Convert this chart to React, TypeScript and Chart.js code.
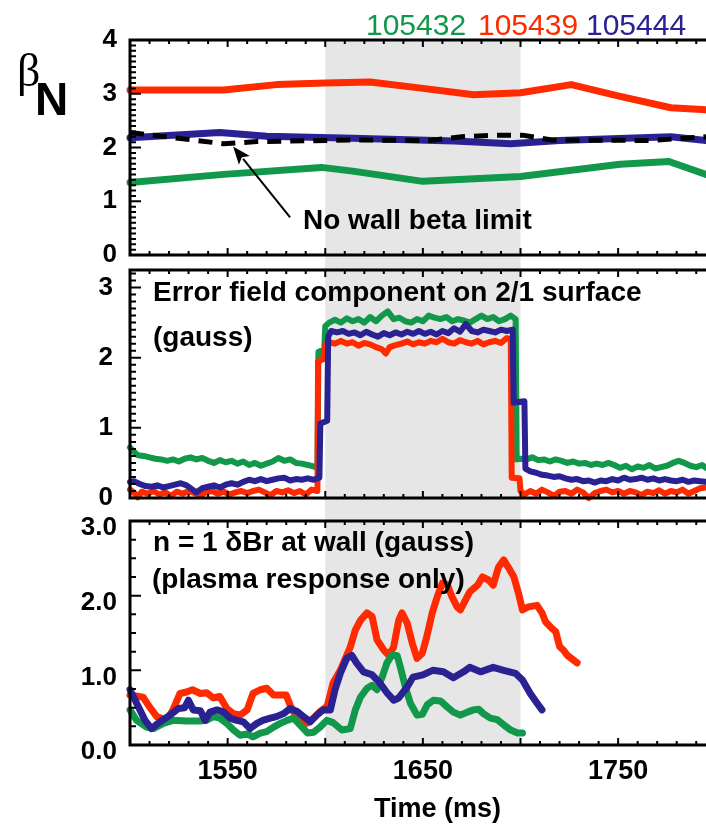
import React, { useEffect, useRef } from "react";
import { Chart, registerables } from "chart.js";

Chart.register(...registerables);

// ---------- axes ----------
const X_MIN = 1500;
const X_MAX = 1795;
const X_TICKS = [1550, 1650, 1750];
const SHADE_START = 1600;
const SHADE_END = 1700;

const BETA_TICKS = [0, 1, 2, 3, 4];
const EF_TICKS = [0, 1, 2, 3];
const BR_TICKS = [0, 1, 2, 3];

const SHOTS = ["105432", "105439", "105444"];

const GREEN = "#12984a";
const RED = "#ff2a00";
const BLUE = "#2a2293";
const BAND = "#e6e6e6";

// ---------- panel 1: beta_N ----------
const BETA_RED_T = [1500, 1548, 1575, 1600, 1623, 1650, 1676, 1700, 1726, 1751, 1777, 1795];
const BETA_RED = [3.07, 3.07, 3.17, 3.2, 3.22, 3.1, 2.98, 3.02, 3.17, 2.95, 2.74, 2.7];
const BETA_GREEN_T = [1500, 1548, 1598, 1614, 1650, 1700, 1751, 1776, 1795];
const BETA_GREEN = [1.35, 1.5, 1.63, 1.56, 1.37, 1.46, 1.69, 1.74, 1.5];
const BETA_BLUE_T = [1500, 1546, 1570, 1614, 1666, 1695, 1720, 1777, 1795];
const BETA_BLUE = [2.18, 2.28, 2.21, 2.17, 2.12, 2.07, 2.13, 2.2, 2.13];
const NOWALL_T = [1500, 1548, 1565, 1614, 1653, 1670, 1687, 1701, 1716, 1767, 1795];
const NOWALL = [2.28, 2.07, 2.11, 2.14, 2.13, 2.2, 2.23, 2.23, 2.14, 2.13, 2.2];

// ---------- panel 2: error field ----------
const EF_GREEN_T = [1500, 1502, 1504, 1507, 1510, 1513, 1516, 1519, 1522, 1525, 1528, 1531, 1534, 1537, 1540, 1543, 1546, 1549, 1552, 1555, 1558, 1561, 1564, 1567, 1570, 1573, 1576, 1579, 1582, 1585, 1588, 1591, 1594, 1596,
  1596.5, 1599.5, 1600,
  1602, 1605, 1608, 1611, 1614, 1617, 1620, 1623, 1626, 1629, 1632, 1635, 1638, 1641, 1644, 1647, 1650, 1653, 1656, 1659, 1662, 1665, 1668, 1671, 1674, 1677, 1680, 1683, 1686, 1689, 1692, 1695, 1697.5,
  1698,
  1700, 1703, 1706, 1709, 1712, 1715, 1718, 1721, 1724, 1727, 1730, 1733, 1736, 1739, 1742, 1745, 1748, 1751, 1754, 1757, 1760, 1763, 1766, 1769, 1772, 1775, 1778, 1781, 1784, 1787, 1790, 1793, 1795];
const EF_GREEN = [0.72, 0.66, 0.61, 0.6, 0.58, 0.56, 0.55, 0.53, 0.55, 0.52, 0.56, 0.58, 0.55, 0.57, 0.53, 0.5, 0.54, 0.51, 0.53, 0.49, 0.52, 0.47, 0.5, 0.46, 0.49, 0.52, 0.57, 0.53, 0.55, 0.5, 0.49, 0.47, 0.45, 0.43,
  2.08, 2.12, 2.45,
  2.5, 2.54, 2.5, 2.56, 2.52, 2.55, 2.5, 2.58, 2.52, 2.6, 2.66, 2.55, 2.57, 2.52, 2.5, 2.55, 2.52, 2.6, 2.57, 2.55, 2.58, 2.52, 2.55, 2.53, 2.5, 2.55, 2.6, 2.55, 2.58, 2.52, 2.55, 2.6, 2.55,
  0.55,
  0.56, 0.55, 0.58, 0.54, 0.55, 0.52, 0.55, 0.53, 0.5, 0.52, 0.49, 0.5, 0.47, 0.49, 0.47, 0.5, 0.47, 0.43, 0.46, 0.41, 0.45, 0.43, 0.47, 0.42, 0.44, 0.46, 0.5, 0.53, 0.5, 0.46, 0.44, 0.47, 0.43];

const EF_RED_T = [1500, 1502, 1504, 1506, 1509, 1512, 1515, 1518, 1521, 1524, 1527, 1530, 1533, 1536, 1539, 1542, 1545, 1548, 1551, 1554, 1557, 1560, 1563, 1566, 1569, 1572, 1575, 1578, 1581, 1584, 1587, 1590, 1593, 1596,
  1596.3, 1599, 1600,
  1602, 1605, 1608, 1611, 1614, 1617, 1620, 1623, 1626, 1629, 1631, 1633, 1636, 1639, 1642, 1645, 1648, 1651, 1654, 1657, 1660, 1663, 1666, 1669, 1672, 1675, 1678, 1681, 1684, 1687, 1690, 1693, 1695,
  1695.5, 1699.5, 1700,
  1702, 1705, 1708, 1711, 1714, 1717, 1720, 1723, 1726, 1729, 1732, 1735, 1738, 1741, 1744, 1747, 1750, 1753, 1756, 1759, 1762, 1765, 1768, 1771, 1774, 1777, 1780, 1783, 1786, 1789, 1792, 1795];
const EF_RED = [0.12, 0.08, 0.01, 0.09, 0.06, 0.1, 0.05, 0.08, 0.03, 0.09, 0.06, 0.1, 0.07, 0.04, 0.08, 0.1, 0.06, 0.09, 0.05, 0.08, 0.1, 0.07, 0.1, 0.12, 0.08, 0.04, 0.1, 0.08, 0.11, 0.07, 0.1, 0.05, 0.12, 0.1,
  1.95, 1.98, 2.18,
  2.22, 2.2, 2.24, 2.2, 2.22, 2.17, 2.21, 2.19, 2.15, 2.12, 2.06, 2.15, 2.18, 2.2, 2.23, 2.19, 2.22, 2.2, 2.24, 2.22, 2.27, 2.22, 2.2, 2.25, 2.22, 2.2, 2.24, 2.19, 2.22, 2.24, 2.21, 2.28, 2.26,
  0.29, 0.28, 0.1,
  0.05, 0.1, 0.06, 0.12, 0.08, 0.03, 0.09, 0.1, 0.06, 0.12, 0.08, 0.0, 0.07, 0.1, 0.12, 0.08, 0.1, 0.06, 0.1, 0.08, 0.04, 0.09, 0.07, 0.11, 0.06, 0.1, 0.08, 0.12, 0.06, 0.1, 0.14, 0.15];

const EF_BLUE_T = [1500, 1502, 1505, 1508, 1511, 1514, 1517, 1520, 1523, 1526, 1529, 1532, 1534, 1537, 1540, 1543, 1546, 1549, 1552, 1555, 1558, 1561, 1564, 1567, 1570, 1573, 1576, 1579, 1582, 1585, 1588, 1591, 1594, 1597,
  1597.5, 1601, 1601.5,
  1603, 1606, 1609, 1612, 1615, 1618, 1621, 1624, 1627, 1630, 1633, 1636, 1639, 1642, 1645, 1648, 1651, 1654, 1657, 1660, 1663, 1666, 1669, 1672, 1675, 1678, 1681, 1684, 1687, 1690, 1693, 1696,
  1696.5, 1702, 1702.5,
  1705, 1708, 1711, 1714, 1717, 1720, 1723, 1726, 1729, 1732, 1735, 1738, 1741, 1744, 1747, 1750, 1753, 1756, 1759, 1762, 1765, 1768, 1771, 1774, 1777, 1780, 1783, 1786, 1789, 1792, 1795];
const EF_BLUE = [0.23, 0.24, 0.2, 0.17, 0.16, 0.18, 0.15, 0.17, 0.19, 0.21, 0.18, 0.12, 0.08, 0.14, 0.16, 0.18, 0.15, 0.19, 0.21, 0.19, 0.23, 0.26, 0.24, 0.27, 0.24, 0.26, 0.28, 0.29, 0.25, 0.27, 0.26, 0.28, 0.26, 0.29,
  1.06, 1.1, 2.3,
  2.38, 2.36, 2.38, 2.34, 2.36, 2.32, 2.37, 2.33, 2.3, 2.35, 2.32, 2.36, 2.33, 2.37, 2.34, 2.38, 2.34, 2.37, 2.33, 2.38, 2.35, 2.42, 2.37, 2.48, 2.38, 2.36, 2.4, 2.38, 2.36, 2.4, 2.38, 2.4,
  1.36, 1.38, 0.42,
  0.38, 0.36, 0.33, 0.32, 0.3, 0.31, 0.28, 0.26, 0.27, 0.24, 0.25, 0.22, 0.25, 0.24, 0.27, 0.25, 0.29, 0.26, 0.27, 0.29, 0.26, 0.28, 0.25, 0.27, 0.25, 0.24, 0.26, 0.23, 0.25, 0.24, 0.23];

// ---------- panel 3: n=1 dBr at wall ----------
const BR_RED_T = [1500, 1506.7, 1510, 1513.7, 1518.8, 1522, 1525.6, 1529, 1532, 1536, 1539.3, 1542.7, 1546, 1549.6, 1553, 1556.4, 1560, 1563, 1566.7, 1570, 1573.5, 1577, 1580, 1583, 1587, 1590.6, 1594, 1597, 1601, 1604, 1607.7, 1612.8, 1615.4, 1618, 1621.4, 1624, 1626.5, 1630, 1632.5, 1635, 1637.6, 1639.3, 1642, 1644.6, 1647, 1649.7, 1652, 1654.8, 1657.3, 1660, 1662.4, 1665, 1667.5, 1669.2, 1671.8, 1674, 1678, 1680.5, 1683.6, 1686, 1688.7, 1691.4, 1694, 1696.6, 1699, 1701, 1704, 1708.5, 1711, 1712.8, 1715.4, 1718, 1720, 1722, 1724, 1727, 1729];
const BR_RED = [0.67, 0.64, 0.51, 0.38, 0.33, 0.47, 0.69, 0.71, 0.74, 0.69, 0.7, 0.63, 0.65, 0.49, 0.42, 0.4, 0.47, 0.69, 0.74, 0.76, 0.67, 0.67, 0.67, 0.47, 0.33, 0.29, 0.36, 0.44, 0.52, 0.83, 1.0, 1.31, 1.54, 1.67, 1.77, 1.72, 1.41, 1.27, 1.2, 1.31, 1.67, 1.77, 1.63, 1.36, 1.16, 1.23, 1.45, 1.77, 1.98, 2.17, 2.15, 1.98, 1.85, 1.81, 1.94, 2.05, 2.14, 2.25, 2.21, 2.14, 2.38, 2.48, 2.37, 2.25, 2.03, 1.81, 1.85, 1.87, 1.77, 1.65, 1.58, 1.52, 1.32, 1.27, 1.2, 1.14, 1.1];

const BR_BLUE_T = [1500, 1503.4, 1507.7, 1511, 1515.4, 1520.5, 1524.8, 1528, 1529.9, 1532.4, 1536, 1538.5, 1541, 1544.6, 1547.9, 1551.3, 1554.7, 1558, 1561.5, 1565, 1568, 1571.8, 1575, 1578.6, 1582, 1585.6, 1588.9, 1592.3, 1595.7, 1599, 1602.6, 1605, 1607.7, 1611, 1613.6, 1616, 1619.6, 1624, 1628, 1631.6, 1635, 1637.6, 1642, 1645, 1650, 1655, 1660.5, 1665.6, 1670.8, 1674, 1679.5, 1686, 1691.4, 1697.4, 1701, 1705, 1708.5, 1711];
const BR_BLUE = [0.74, 0.56, 0.33, 0.22, 0.31, 0.4, 0.49, 0.5, 0.6, 0.47, 0.46, 0.33, 0.44, 0.47, 0.44, 0.36, 0.33, 0.31, 0.22, 0.29, 0.33, 0.36, 0.38, 0.42, 0.49, 0.45, 0.38, 0.31, 0.4, 0.47, 0.47, 0.74, 0.96, 1.16, 1.2, 1.1, 0.98, 0.94, 0.83, 0.7, 0.6, 0.63, 0.78, 0.91, 0.94, 1.0, 0.98, 0.9, 0.98, 1.04, 0.98, 1.04, 1.0, 0.96, 0.87, 0.69, 0.56, 0.47];

const BR_GREEN_T = [1500, 1503.4, 1508.5, 1512, 1517, 1522, 1529, 1536, 1539, 1542.7, 1546, 1549.6, 1553, 1556.4, 1560, 1563, 1566.7, 1570, 1573.5, 1577, 1580.5, 1583.8, 1587, 1591, 1594, 1597.4, 1600.8, 1604, 1608.6, 1612.8, 1615.4, 1618, 1621.4, 1624, 1626.5, 1629, 1631.6, 1634, 1636.8, 1638.5, 1641, 1643.6, 1647, 1649.7, 1652.3, 1655.4, 1659, 1662.4, 1665.6, 1669.2, 1672.8, 1675.9, 1678.5, 1681, 1684.6, 1688, 1691.4, 1695, 1698.5, 1701];
const BR_GREEN = [0.47, 0.33, 0.24, 0.22, 0.29, 0.33, 0.32, 0.32, 0.33, 0.38, 0.36, 0.29, 0.2, 0.13, 0.15, 0.11, 0.16, 0.18, 0.24, 0.29, 0.33, 0.36, 0.27, 0.16, 0.17, 0.24, 0.33, 0.3, 0.2, 0.22, 0.47, 0.64, 0.76, 0.8, 0.74, 0.9, 1.1, 1.2, 1.2, 1.04, 0.78, 0.56, 0.4, 0.41, 0.54, 0.6, 0.59, 0.51, 0.44, 0.4, 0.44, 0.47, 0.48, 0.42, 0.36, 0.34, 0.27, 0.2, 0.16, 0.16];

// ---------- drawing helpers ----------
const SANS = "'Liberation Sans', Arial, Helvetica, sans-serif";

const series = (t: number[], v: number[], color: string, width: number, extra: any = {}) => ({
  data: t.map((x, i) => ({ x, y: v[i] })),
  borderColor: color,
  borderWidth: width,
  pointRadius: 0,
  fill: false,
  tension: 0,
  borderJoinStyle: "round",
  borderCapStyle: "round",
  clip: false,
  ...extra,
});

const panelPlugin = {
  id: "panel",
  beforeDatasetsDraw(chart: any, _a: any, o: any) {
    const { ctx, chartArea: a } = chart;
    const xs = chart.scales.x;
    const x0 = xs.getPixelForValue(SHADE_START);
    const x1 = xs.getPixelForValue(SHADE_END);
    const top = o.bandTopCanvas ? 0 : a.top;
    const bottom = o.bandBottomCanvas ? chart.height : a.bottom;
    ctx.save();
    ctx.fillStyle = BAND;
    ctx.fillRect(x0, top, x1 - x0, bottom - top);
    ctx.restore();
  },
  afterDatasetsDraw(chart: any, _a: any, o: any) {
    const { ctx, chartArea: a } = chart;
    const xs = chart.scales.x;
    const ys = chart.scales.y;
    ctx.save();
    ctx.strokeStyle = "#000";
    ctx.lineCap = "butt";
    ctx.lineWidth = 2;
    ctx.beginPath();
    const n = Math.floor((ys.max - ys.min) / o.yMinor + 1e-6);
    for (let i = 0; i <= n; i++) {
      const v = ys.min + i * o.yMinor;
      const py = ys.getPixelForValue(v);
      const major = Math.abs(v - Math.round(v)) < 1e-6;
      ctx.moveTo(a.left, py);
      ctx.lineTo(a.left + (major ? 11 : 6), py);
    }
    const m = Math.floor((X_MAX - X_MIN) / 10);
    for (let i = 0; i <= m; i++) {
      const t = X_MIN + i * 10;
      const px = xs.getPixelForValue(t);
      const len = t % 50 === 0 ? 7 : 4;
      ctx.moveTo(px, a.bottom);
      ctx.lineTo(px, a.bottom - len);
      ctx.moveTo(px, a.top);
      ctx.lineTo(px, a.top + len);
    }
    ctx.stroke();
    ctx.lineWidth = 3;
    ctx.beginPath();
    ctx.moveTo(a.right + 3, a.top);
    ctx.lineTo(a.left, a.top);
    ctx.lineTo(a.left, a.bottom);
    ctx.lineTo(a.right + 3, a.bottom);
    ctx.stroke();
    if (o.arrow) {
      const xa = xs.getPixelForValue(o.arrow.from[0]);
      const ya = ys.getPixelForValue(o.arrow.from[1]);
      const xb = xs.getPixelForValue(o.arrow.to[0]);
      const yb = ys.getPixelForValue(o.arrow.to[1]);
      const dx = xb - xa, dy = yb - ya;
      const L = Math.hypot(dx, dy);
      const ux = dx / L, uy = dy / L;
      const hl = 18, hw = 7;
      const bx = xb - ux * hl, by = yb - uy * hl;
      ctx.lineWidth = 2;
      ctx.beginPath();
      ctx.moveTo(xa, ya);
      ctx.lineTo(bx + ux * 2, by + uy * 2);
      ctx.stroke();
      ctx.fillStyle = "#000";
      ctx.beginPath();
      ctx.moveTo(xb, yb);
      ctx.lineTo(bx - uy * hw, by + ux * hw);
      ctx.lineTo(bx + ux * 4, by + uy * 4);
      ctx.lineTo(bx + uy * hw, by - ux * hw);
      ctx.closePath();
      ctx.fill();
    }
    ctx.restore();
  },
};

function makeConfig(p: any) {
  return {
    type: "line",
    data: { datasets: p.datasets },
    plugins: [panelPlugin],
    options: {
      responsive: false,
      maintainAspectRatio: false,
      animation: false,
      events: [],
      layout: { autoPadding: false, padding: { left: 0, right: 0, top: p.padTop, bottom: p.padBottom } },
      plugins: {
        legend: { display: false },
        tooltip: { enabled: false },
        panel: {
          yMinor: p.yMinor,
          bandTopCanvas: p.bandTopCanvas,
          bandBottomCanvas: p.bandBottomCanvas,
          arrow: p.arrow,
        },
      },
      scales: {
        x: {
          type: "linear",
          min: X_MIN,
          max: X_MAX,
          display: p.showX,
          position: "bottom",
          afterBuildTicks: (s: any) => {
            s.ticks = X_TICKS.map((v) => ({ value: v }));
          },
          afterFit: (s: any) => {
            if (p.showX) s.height = 81;
            s.paddingLeft = 0;
            s.paddingRight = 0;
          },
          ticks: {
            autoSkip: false,
            maxRotation: 0,
            minRotation: 0,
            color: "#000",
            padding: 10,
            font: { family: SANS, size: 27, weight: "bold" },
            callback: (v: any) => String(v),
          },
          grid: { display: false, drawTicks: false },
          border: { display: false },
        },
        y: {
          type: "linear",
          min: 0,
          max: p.yMax,
          position: "left",
          afterBuildTicks: (s: any) => {
            s.ticks = p.yTicks.map((v: number) => ({ value: v }));
          },
          afterFit: (s: any) => {
            s.width = 130;
            s.paddingTop = 0;
            s.paddingBottom = 0;
          },
          ticks: {
            color: "#000",
            padding: p.yPad,
            labelOffset: p.labelOffset,
            font: { family: SANS, size: 26, weight: "bold" },
            callback: p.fmt,
          },
          grid: { display: false, drawTicks: false },
          border: { display: false },
        },
      },
    },
  };
}

const PANELS = [
  {
    top: 0,
    height: 272,
    cfg: () =>
      makeConfig({
        datasets: [
          series(NOWALL_T, NOWALL, "#000", 5, { borderDash: [14, 9], borderCapStyle: "butt" }),
          series(BETA_BLUE_T, BETA_BLUE, BLUE, 7),
          series(BETA_RED_T, BETA_RED, RED, 7),
          series(BETA_GREEN_T, BETA_GREEN, GREEN, 7),
        ],
        yMax: 4,
        yTicks: BETA_TICKS,
        fmt: (v: number) => String(v),
        padTop: 40,
        padBottom: 17,
        showX: false,
        yMinor: 0.1,
        yPad: 13,
        labelOffset: 0,
        bandTopCanvas: false,
        bandBottomCanvas: true,
        arrow: { from: [1582, 0.7], to: [1552.8, 2.02] },
      }),
  },
  {
    top: 263,
    height: 254,
    cfg: () =>
      makeConfig({
        datasets: [
          series(EF_BLUE_T, EF_BLUE, BLUE, 6),
          series(EF_RED_T, EF_RED, RED, 6),
          series(EF_GREEN_T, EF_GREEN, GREEN, 6),
        ],
        yMax: 3.25,
        yTicks: EF_TICKS,
        fmt: (v: number) => String(v),
        padTop: 7,
        padBottom: 19,
        showX: false,
        yMinor: 0.1,
        yPad: 17,
        labelOffset: 0,
        bandTopCanvas: true,
        bandBottomCanvas: true,
      }),
  },
  {
    top: 500,
    height: 326,
    cfg: () =>
      makeConfig({
        datasets: [
          series(BR_BLUE_T, BR_BLUE, BLUE, 7),
          series(BR_GREEN_T, BR_GREEN, GREEN, 7),
          series(BR_RED_T, BR_RED, RED, 7),
        ],
        yMax: 3,
        yTicks: BR_TICKS,
        fmt: (v: number) => v.toFixed(1),
        padTop: 21,
        padBottom: 0,
        showX: true,
        yMinor: 0.25,
        yPad: 13,
        labelOffset: 7,
        bandTopCanvas: true,
        bandBottomCanvas: false,
      }),
  },
];

function Panel({ top, height, cfg }: any) {
  const ref = useRef<HTMLCanvasElement | null>(null);
  useEffect(() => {
    const chart = new Chart(ref.current as any, cfg() as any);
    return () => chart.destroy();
  }, []);
  return (
    <canvas
      ref={ref}
      width={706}
      height={height}
      style={{ position: "absolute", left: 0, top, width: 706, height, display: "block" }}
    />
  );
}

const txt = (left: number, top: number, size: number, extra: any = {}) => ({
  position: "absolute" as const,
  left,
  top,
  fontFamily: SANS,
  fontSize: size,
  lineHeight: `${size}px`,
  fontWeight: "bold" as const,
  whiteSpace: "nowrap" as const,
  color: "#000",
  ...extra,
});

export default function App() {
  return (
    <div style={{ position: "absolute", left: 0, top: 0, width: 706, height: 826, overflow: "hidden", background: "#fff" }}>
      {PANELS.map((p, i) => (
        <Panel key={i} top={p.top} height={p.height} cfg={p.cfg} />
      ))}
      <div style={txt(366, 10, 30, { fontWeight: "normal", color: GREEN })}>{SHOTS[0]}</div>
      <div style={txt(478, 10, 30, { fontWeight: "normal", color: RED })}>{SHOTS[1]}</div>
      <div style={txt(586, 10, 30, { fontWeight: "normal", color: BLUE })}>{SHOTS[2]}</div>
      <div style={txt(17, 48, 46, { fontWeight: "normal", fontFamily: "'Liberation Serif', 'Times New Roman', serif" })}>β</div>
      <div style={txt(35, 76, 46)}>N</div>
      <div style={txt(303, 206, 28)}>No wall beta limit</div>
      <div style={txt(153, 278, 28)}>Error field component on 2/1 surface</div>
      <div style={txt(153, 323, 28)}>(gauss)</div>
      <div style={txt(153, 528, 28)}>n = 1 δBr at wall (gauss)</div>
      <div style={txt(152, 565, 28)}>(plasma response only)</div>
      <div style={txt(374, 795, 27)}>Time (ms)</div>
    </div>
  );
}
